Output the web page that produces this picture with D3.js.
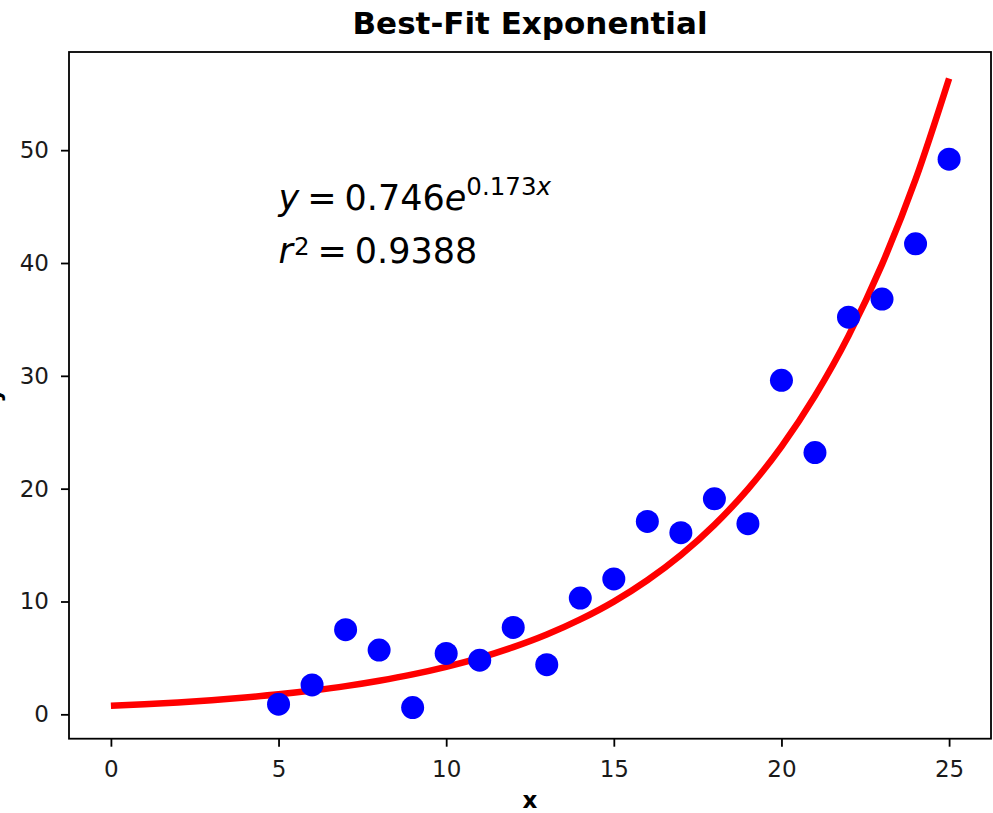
<!DOCTYPE html>
<html>
<head>
<meta charset="utf-8">
<script src="https://cdn.jsdelivr.net/npm/d3@7"></script>
<style>
  body { margin: 0; background: #fff; }
  svg { display: block; font-family: "DejaVu Sans", sans-serif; }
</style>
</head>
<body>
<div id="chart"></div>
<script>
// observed points
var xValues = [5, 6, 7, 8, 9, 10, 11, 12, 13, 14, 15, 16, 17, 18, 19, 20, 21, 22, 23, 24, 25];
var yValues = [0.9, 2.6, 7.5, 5.7, 0.6, 5.4, 4.8, 7.7, 4.4, 10.3, 12.0, 17.1, 16.1, 19.1, 16.9, 29.6, 23.2, 35.2, 36.8, 41.7, 49.2];

// fitted curve
var curveX = [0, 1, 2, 3, 4, 5, 6, 7, 8, 9, 10, 11, 12, 13, 14, 15, 16, 17, 18, 19, 20, 21, 22, 23, 24, 25];
var curveY = [0.75, 0.89, 1.05, 1.25, 1.49, 1.77, 2.11, 2.50, 2.98, 3.54, 4.21, 5.00, 5.95, 7.07, 8.41, 9.99, 11.88, 14.12, 16.79, 19.96, 23.73, 28.22, 33.54, 39.88, 47.41, 56.36];

var xTicks = [0, 5, 10, 15, 20, 25];
var yTicks = [0, 10, 20, 30, 40, 50];

var width = 993;
var height = 813;
var plot = { left: 69, right: 991, top: 52, bottom: 738.7 };

var svg = d3.select("#chart").append("svg")
  .attr("width", width)
  .attr("height", height);

var xScale = d3.scaleLinear()
  .domain([-1.25, 26.25])
  .range([plot.left, plot.right]);

var yScale = d3.scaleLinear()
  .domain([-2.16, 58.7])
  .range([plot.bottom, plot.top]);

// frame
svg.append("rect")
  .attr("x", plot.left)
  .attr("y", plot.top)
  .attr("width", plot.right - plot.left)
  .attr("height", plot.bottom - plot.top)
  .attr("fill", "none")
  .attr("stroke", "#000")
  .attr("stroke-width", 1.8);

// axes
var xAxis = svg.append("g")
  .attr("transform", "translate(0," + plot.bottom + ")")
  .call(d3.axisBottom(xScale).tickValues(xTicks).tickSize(8).tickPadding(14).tickSizeOuter(0));

var yAxis = svg.append("g")
  .attr("transform", "translate(" + plot.left + ",0)")
  .call(d3.axisLeft(yScale).tickValues(yTicks).tickSize(8).tickPadding(12).tickSizeOuter(0));

[xAxis, yAxis].forEach(function(ax) {
  ax.select(".domain").remove();
  ax.selectAll("line").attr("stroke", "#000").attr("stroke-width", 1.8);
  ax.selectAll("text")
    .attr("fill", "#1a1a1a")
    .style("font-family", "DejaVu Sans")
    .style("font-size", "23px");
});

// fitted line
var line = d3.line()
  .x(function(d, i) { return xScale(curveX[i]); })
  .y(function(d) { return yScale(d); })
  .curve(d3.curveMonotoneX);

svg.append("path")
  .datum(curveY)
  .attr("d", line)
  .attr("fill", "none")
  .attr("stroke", "#ff0000")
  .attr("stroke-width", 6.5);

// scatter
svg.selectAll("circle.pt")
  .data(yValues)
  .enter()
  .append("circle")
  .attr("class", "pt")
  .attr("cx", function(d, i) { return xScale(xValues[i]); })
  .attr("cy", function(d) { return yScale(d); })
  .attr("r", 11.5)
  .attr("fill", "#0000ff");

// equation text, anchored at data (5, 40)
var eqX = xScale(5);
var eqY = yScale(40);

var line1 = svg.append("text")
  .attr("x", eqX)
  .attr("y", eqY - 53)
  .style("font-size", "35px")
  .attr("fill", "#000");
line1.append("tspan").style("font-style", "italic").text("y");
line1.append("tspan").attr("dx", 8).text("=");
line1.append("tspan").attr("dx", 8).text("0.746");
line1.append("tspan").style("font-style", "italic").text("e");
line1.append("tspan").attr("dy", -15).style("font-size", "24.5px").text("0.173");
line1.append("tspan").style("font-size", "24.5px").style("font-style", "italic").text("x");

var line2 = svg.append("text")
  .attr("x", eqX)
  .attr("y", eqY)
  .style("font-size", "35px")
  .attr("fill", "#000");
line2.append("tspan").style("font-style", "italic").text("r");
line2.append("tspan").attr("dx", 1).attr("dy", -8).style("font-size", "24.5px").text("2");
line2.append("tspan").attr("dx", 8).attr("dy", 8).text("=");
line2.append("tspan").attr("dx", 8).text("0.9388");

// title and labels
svg.append("text")
  .attr("x", (plot.left + plot.right) / 2)
  .attr("y", 34)
  .attr("text-anchor", "middle")
  .style("font-size", "31px")
  .style("font-weight", "bold")
  .text("Best-Fit Exponential");

svg.append("text")
  .attr("x", (plot.left + plot.right) / 2)
  .attr("y", 808)
  .attr("text-anchor", "middle")
  .style("font-size", "23px")
  .style("font-weight", "bold")
  .text("x");

svg.append("text")
  .attr("transform", "translate(0," + (plot.top + plot.bottom) / 2 + ") rotate(-90)")
  .attr("text-anchor", "middle")
  .style("font-size", "23px")
  .style("font-weight", "bold")
  .text("y");
</script>
</body>
</html>
